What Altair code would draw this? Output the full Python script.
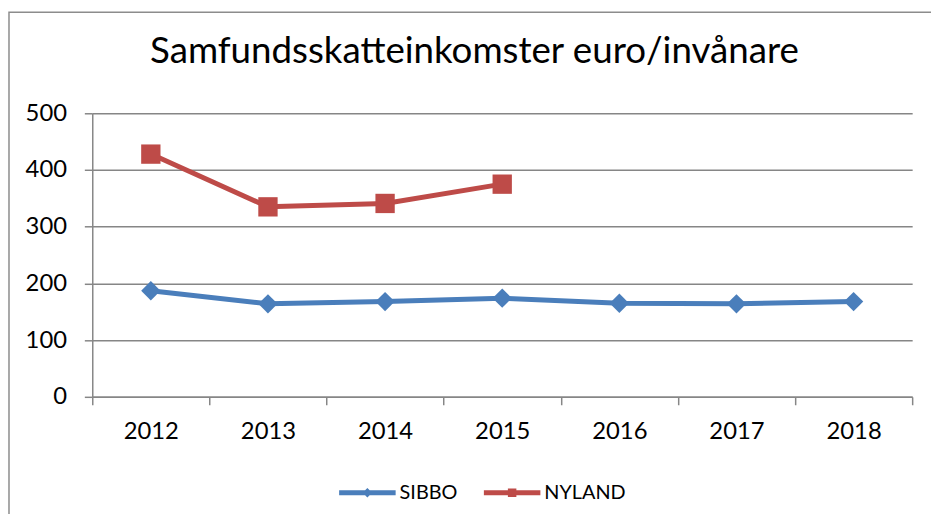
import altair as alt
import pandas as pd

years = ["2012", "2013", "2014", "2015", "2016", "2017", "2018"]
sibbo = [187, 164, 168, 174, 165, 164, 168]
nyland_years = ["2012", "2013", "2014", "2015"]
nyland = [428, 335, 341, 375]

series = ["SIBBO", "NYLAND"]
colors = ["#4A7EBB", "#BE4B48"]
shapes = ["diamond", "square"]

df = pd.concat([
    pd.DataFrame({"year": years, "value": sibbo, "series": "SIBBO"}),
    pd.DataFrame({"year": nyland_years, "value": nyland, "series": "NYLAND"}),
], ignore_index=True)

FONT = "Lato"
GRID = "#868686"

x_enc = alt.X(
    "year:O",
    bandPosition=0.5,
    scale=alt.Scale(type="band", domain=years, paddingInner=0, paddingOuter=0),
    axis=alt.Axis(title=None, labelAngle=0, tickBand="extent", grid=False,
                  domainColor=GRID, domainWidth=1.5, tickColor=GRID, tickWidth=1.5,
                  tickSize=8, labelPadding=15, labelFontSize=24, labelFont=FONT,
                  labelColor="#000000"),
)
y_enc = alt.Y(
    "value:Q",
    scale=alt.Scale(domain=[0, 500], nice=False),
    axis=alt.Axis(title=None, values=[0, 100, 200, 300, 400, 500], grid=True,
                  gridColor=GRID, gridWidth=1.5, domainColor=GRID, domainWidth=1.5,
                  tickColor=GRID, tickWidth=1.5, tickSize=8, labelPadding=18,
                  labelFontSize=24, labelFont=FONT, labelColor="#000000"),
)

series_layers = []
for s, col, shp in zip(series, colors, shapes):
    base = alt.Chart(df).transform_filter(alt.datum.series == s)
    series_layers.append(base.mark_line(strokeWidth=5, color=col).encode(x=x_enc, y=y_enc))
    series_layers.append(
        base.mark_point(filled=True, opacity=1, size=380, shape=shp, color=col)
        .encode(x=x_enc, y=y_enc)
    )

sibbo_path = "M-1,-0.088L1,-0.088L1,0.088L-1,0.088Z M0,-0.17L0.17,0L0,0.17L-0.17,0Z"
nyland_path = "M-1,-0.088L1,-0.088L1,0.088L-1,0.088Z M-0.15,-0.15L0.15,-0.15L0.15,0.15L-0.15,0.15Z"

legend_df = pd.DataFrame({"series": series})
legend_layer = alt.Chart(legend_df).mark_point(filled=True).encode(
    x=alt.value(0), y=alt.value(0),
    opacity=alt.value(0),
    color=alt.Color("series:N", scale=alt.Scale(domain=series, range=colors),
                    legend=alt.Legend(title=None)),
    shape=alt.Shape("series:N", scale=alt.Scale(domain=series, range=[sibbo_path, nyland_path]),
                    legend=alt.Legend(title=None)),
)

frame = alt.Chart(pd.DataFrame({"a": [0]})).mark_rect(
    fillOpacity=0, stroke="#8C8C8C", strokeWidth=1.5
).encode(
    x=alt.value(-84), x2=alt.value(900), y=alt.value(-102), y2=alt.value(420)
)

chart = alt.layer(frame, *series_layers, legend_layer).properties(
    width=827,
    height=286,
    autosize=alt.AutoSizeParams(type="none"),
    padding={"left": 85, "top": 104, "right": 19, "bottom": 116},
    title=alt.TitleParams(
        "Samfundsskatteinkomster euro/invånare",
        fontSize=37, font=FONT, fontWeight="normal", color="#000000",
        anchor="middle", frame="group", dx=-28, offset=-60,
    ),
).configure_view(stroke=None).configure_legend(
    orient="none", direction="horizontal",
    legendX=249, legendY=354,
    symbolSize=3249, symbolStrokeWidth=0, symbolOpacity=1,
    labelFontSize=20, labelFont=FONT, labelColor="#000000",
    labelOffset=4, columnPadding=26,
)

chart.save("out.html", embed_options={"renderer": "svg", "actions": False})
